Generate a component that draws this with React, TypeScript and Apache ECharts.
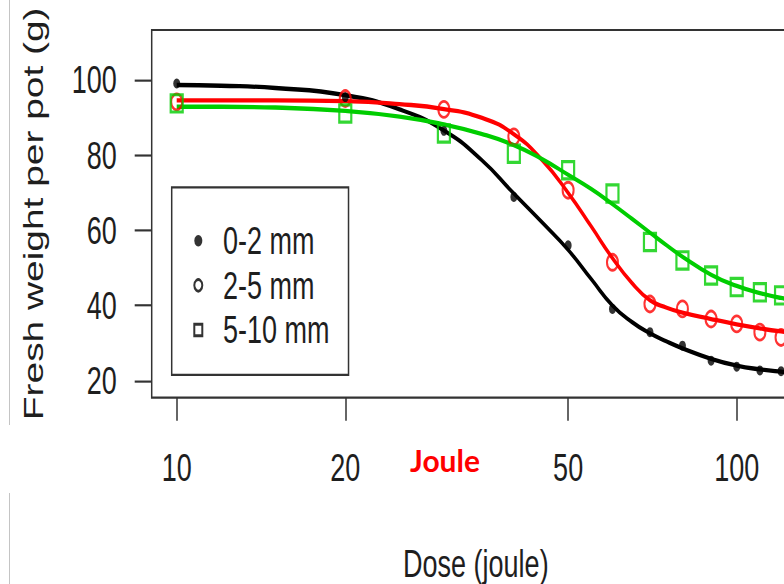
import React, { useEffect, useRef } from 'react';
import * as echarts from 'echarts';

// Observed doses (joule) and fresh weights (g)
const doses = [10, 20, 30, 40, 50, 60, 70, 80, 90, 100, 110, 120];
const obs0to2 = [99.1, 95.5, 86.5, 68.9, 56.0, 39.1, 32.9, 29.3, 25.3, 23.7, 22.7, 22.5];
const obs2to5 = [94.2, 95.1, 92.2, 84.9, 70.7, 51.5, 40.4, 39.1, 36.4, 35.1, 32.9, 31.5];
const obs5to10 = [93.8, 91.1, 85.8, 80.4, 76.0, 69.8, 56.9, 52.0, 48.0, 44.9, 43.5, 42.7];

// Fitted curves
const curveDoses = [10, 12, 15, 20, 25, 30, 35, 40, 45, 50, 55, 60, 65, 70, 75, 80, 90, 100, 110, 120, 130];
const fit0to2 = [98.7, 98.5, 97.9, 96.0, 92.2, 86.6, 78.8, 69.8, 62.0, 54.8, 47.0, 40.0, 35.6, 32.6, 30.4, 28.6, 25.8, 24.0, 23.0, 22.4, 22.0];
const fit2to5 = [94.6, 94.6, 94.6, 94.4, 93.6, 92.3, 90.0, 85.6, 78.6, 70.0, 61.0, 52.6, 46.0, 41.4, 39.4, 38.1, 36.4, 35.0, 33.9, 33.1, 32.6];
const fit5to10 = [92.9, 92.9, 92.7, 91.8, 90.3, 88.2, 85.7, 82.7, 78.9, 74.8, 71.0, 67.0, 63.1, 59.4, 56.0, 53.0, 48.2, 45.2, 43.3, 42.0, 41.2];

const seriesNames = ['0-2 mm', '2-5 mm', '5-10 mm'];
const xTickLabels = [10, 20, 50, 100];
const yTickLabels = [20, 40, 60, 80, 100];

const S = 1.44; // vertical stretch of the reference picture
const W = 820;
const H = 584 / S;

const toLog = (xs: number[], ys: number[]) => xs.map((d, i) => [Math.log10(d), ys[i]]);

export default function App() {
  const ref = useRef<HTMLDivElement>(null);
  useEffect(() => {
    if (!ref.current) return;
    const chart = echarts.init(ref.current, undefined, { renderer: 'svg' });
    const font = 'Liberation Sans';
    const textColor = '#1e1e1e';
    const curve = (name: string, values: number[], color: string) => ({
      name,
      type: 'line',
      data: toLog(curveDoses, values),
      smooth: 0.5,
      symbol: 'none',
      lineStyle: { color, width: 3 },
      silent: true,
      z: 2,
    });
    chart.setOption({
      animation: false,
      grid: {
        left: 151.7,
        right: 20,
        top: 30 / S,
        bottom: H - 397 / S,
        show: true,
        borderColor: '#333',
        borderWidth: 1.5,
        backgroundColor: 'transparent',
        outerBoundsMode: 'none',
      },
      xAxis: {
        type: 'value',
        min: 1 - (176.7 - 151.7) / 560,
        max: 1 + (800 - 176.7) / 560,
        name: 'Dose (joule)',
        nameLocation: 'middle',
        nameGap: 102,
        nameMoveOverlap: false,
        nameTextStyle: { fontSize: 27, color: textColor, fontFamily: font },
        axisLine: { show: false },
        splitLine: { show: false },
        axisTick: {
          show: true,
          length: 16,
          lineStyle: { color: '#333', width: 1.5 },
          customValues: xTickLabels.map((v) => Math.log10(v)),
        },
        axisLabel: {
          customValues: xTickLabels.map((v) => Math.log10(v)),
          formatter: (v: number) => String(Math.round(Math.pow(10, v))),
          fontSize: 27,
          margin: 35,
          color: textColor,
          fontFamily: font,
        },
      },
      yAxis: {
        type: 'value',
        min: 15.47,
        max: 113.34,
        name: 'Fresh weight per pot (g)',
        nameLocation: 'middle',
        nameGap: 104,
        nameMoveOverlap: false,
        nameTextStyle: { fontSize: 27, color: textColor, fontFamily: font },
        axisLine: { show: false },
        splitLine: { show: false },
        axisTick: {
          show: true,
          length: 17,
          lineStyle: { color: '#333', width: 1.5 },
          customValues: yTickLabels,
        },
        axisLabel: {
          customValues: yTickLabels,
          fontSize: 27,
          margin: 35,
          color: textColor,
          fontFamily: font,
        },
      },
      legend: {
        orient: 'vertical',
        left: 171.7,
        top: 187.3 / S,
        padding: [23.6, 19, 17.7, 21.6],
        itemGap: 4,
        itemWidth: 8,
        itemHeight: 8,
        borderColor: '#333',
        borderWidth: 1.5,
        selectedMode: false,
        textStyle: { fontSize: 27, lineHeight: 27, color: textColor, fontFamily: font, padding: [0, 0, 0, 15.7] },
        data: [
          { name: seriesNames[0], icon: 'circle', itemStyle: { color: '#000', borderWidth: 0 } },
          { name: seriesNames[1], icon: 'emptyCircle', itemStyle: { color: '#000', borderWidth: 0 } },
          { name: seriesNames[2], icon: 'emptyRect', itemStyle: { color: '#000', borderWidth: 0 } },
        ],
      },
      graphic: [
        { type: 'line', shape: { x1: 9.5, y1: 0, x2: 9.5, y2: 425 / S }, style: { stroke: '#c4c4c4', lineWidth: 1 }, silent: true },
        { type: 'line', shape: { x1: 9.5, y1: 493 / S, x2: 9.5, y2: H }, style: { stroke: '#c4c4c4', lineWidth: 1 }, silent: true },
        {
          type: 'text',
          x: 445,
          y: 460 / S,
          scaleY: 1 / S,
          silent: true,
          style: {
            text: 'Joule',
            fill: '#ff0000',
            font: 'bold 30px Lato',
            align: 'center',
            verticalAlign: 'middle',
            textAlign: 'center',
            textVerticalAlign: 'middle',
          },
        },
      ],
      series: [
        curve(seriesNames[0] + ' fit', fit0to2, '#000'),
        curve(seriesNames[1] + ' fit', fit2to5, '#ff0000'),
        curve(seriesNames[2] + ' fit', fit5to10, '#00cd00'),
        {
          name: seriesNames[0],
          type: 'scatter',
          data: toLog(doses, obs0to2),
          symbol: 'circle',
          symbolSize: 7,
          itemStyle: { color: '#000' },
          z: 3,
        },
        {
          name: seriesNames[1],
          type: 'scatter',
          data: toLog(doses, obs2to5),
          symbol: 'circle',
          symbolSize: 11,
          itemStyle: { color: 'rgba(0,0,0,0)', borderColor: '#ff0000', borderWidth: 2 },
          z: 3,
        },
        {
          name: seriesNames[2],
          type: 'scatter',
          data: toLog(doses, obs5to10),
          symbol: 'rect',
          symbolSize: 12,
          itemStyle: { color: 'rgba(0,0,0,0)', borderColor: '#00cd00', borderWidth: 2.2 },
          z: 3,
        },
      ],
    });
    return () => chart.dispose();
  }, []);

  return (
    <div style={{ position: 'absolute', left: 0, top: 0, width: 784, height: 584, overflow: 'hidden', background: '#fff' }}>
      <div
        ref={ref}
        style={{ width: W, height: H, transform: `scaleY(${S})`, transformOrigin: '0 0' }}
      />
    </div>
  );
}
